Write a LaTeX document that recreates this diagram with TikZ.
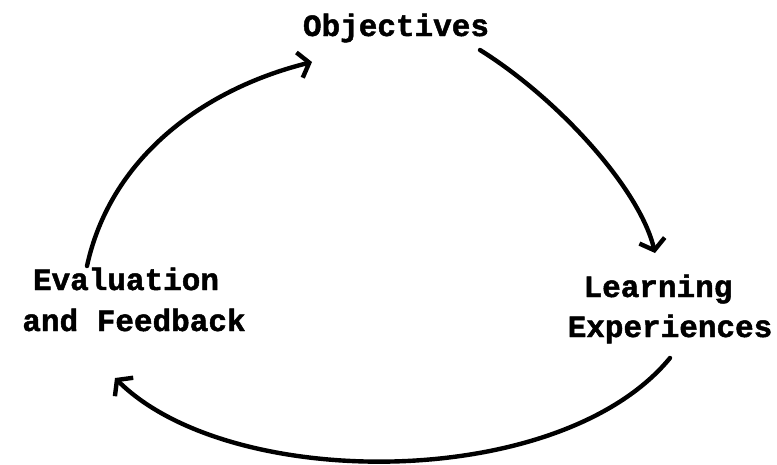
\documentclass[tikz,border=0pt]{standalone}
\usepackage{fontspec}
\setmonofont{Liberation Mono}[BoldFeatures={FakeBold=1.5}]
\usetikzlibrary{arrows.meta}
\tikzset{
  lbl/.style={font=\ttfamily\bfseries\fontsize{31}{36}\selectfont, inner sep=0pt, anchor=base},
  cyc/.style={line width=4.4pt, line cap=round, -{Straight Barb[length=10pt,width=26pt]}}
}
\begin{document}
\begin{tikzpicture}[x=1pt,y=-1pt]
\useasboundingbox[fill=white] (0,0) rectangle (777,464);
\node[lbl] (obj) at (396,36) {Objectives};
\node[lbl] (eval1) at (126,290) {Evaluation};
\node[lbl] (eval2) at (134,331) {and Feedback};
\node[lbl] (learn1) at (658,297) {Learning};
\node[lbl] (learn2) at (670,337) {Experiences};
\coordinate (a1s) at (480,50);
\coordinate (a1e) at (655,253);
\coordinate (a2s) at (670,358);
\coordinate (a2e) at (115,378);
\coordinate (a3s) at (87,266);
\coordinate (a3e) at (312,62);
\draw[cyc] (a1s) .. controls (560,100) and (640,190) .. (a1e);
\draw[cyc] (a2s) .. controls (560,492) and (230,492) .. (a2e);
\draw[cyc] (a3s) .. controls (110,160) and (200,90) .. (a3e);
\end{tikzpicture}
\end{document}
